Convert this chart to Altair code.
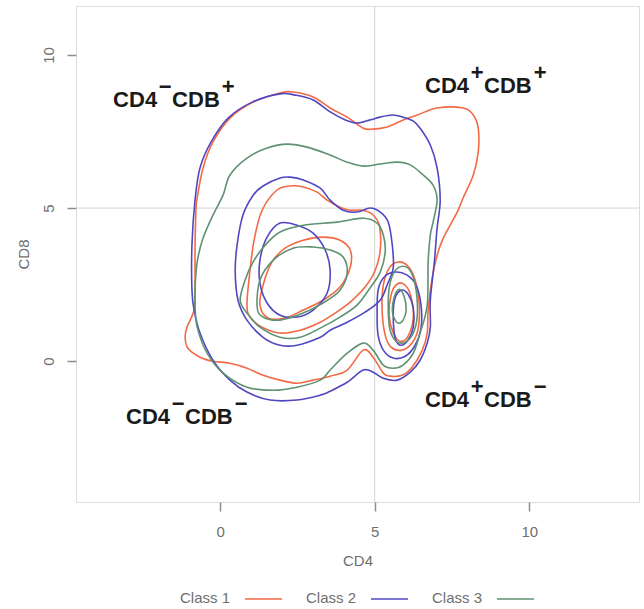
import altair as alt
import pandas as pd

CLASSES = ["Class 1", "Class 2", "Class 3"]
COLORS = ["#F26A45", "#5147C2", "#5F9272"]

# ---------- Class 1 (red) contours, (CD4, CD8) ----------
R1 = [(-0.81,1.99),(-0.81,3.63),(-0.78,4.93),(-0.74,5.33),(-0.55,6.31),(-0.23,7.16),(0.32,7.94),(1.07,8.46),
      (1.94,8.76),(2.36,8.79),(3.01,8.63),(3.56,8.27),(4.11,7.97),(4.63,7.61),(4.95,7.58),(5.40,7.65),(5.92,7.88),
      (6.38,8.04),(7.02,8.27),(7.86,8.27),(8.19,8.04),(8.35,7.61),(8.35,6.83),(8.19,6.08),(7.86,5.33),(7.67,4.87),
      (7.22,4.02),(7.02,3.46),(6.86,2.71),(6.73,1.67),(6.70,0.92),(6.54,0.36),(6.21,-0.20),(5.89,-0.46),(5.50,-0.49),
      (5.28,-0.39),(4.95,0.13),(4.63,0.36),(4.11,-0.29),(3.56,-0.49),(3.01,-0.62),(2.49,-0.72),(1.94,-0.62),
      (1.39,-0.46),(0.87,-0.23),(0.32,-0.07),(-0.23,0.00),(-0.65,0.13),(-1.04,0.42),(-1.13,0.78),(-1.07,1.11),(-0.87,1.57)]
R2 = [(0.87,1.83),(0.94,2.71),(1.10,3.95),(1.36,4.93),(1.84,5.59),(2.27,5.72),(2.69,5.69),(3.14,5.52),(3.46,5.26),
      (3.88,5.03),(4.21,4.93),(4.60,4.93),(4.92,4.80),(5.15,4.44),(5.18,3.63),(5.02,2.97),(4.69,2.42),(4.21,1.93),
      (3.72,1.57),(3.24,1.27),(2.59,1.01),(1.94,0.92),(1.36,1.11),(0.97,1.44)]
R3 = [(1.29,1.83),(1.39,2.48),(1.68,3.24),(2.10,3.69),(2.69,3.95),(3.33,4.05),(3.88,3.95),(4.21,3.63),(4.21,3.07),
      (3.88,2.42),(3.33,1.99),(2.69,1.67),(2.10,1.41),(1.55,1.41)]
R_PEAK1 = [(5.24,1.67),(5.28,2.48),(5.47,3.04),(5.76,3.24),(6.08,3.10),(6.31,2.65),(6.44,1.90),(6.41,1.08),(6.21,0.59),
           (5.89,0.36),(5.53,0.46),(5.34,0.85)]
R_PEAK2 = [(5.47,1.50),(5.53,2.16),(5.73,2.52),(5.99,2.48),(6.18,2.09),(6.25,1.41),(6.08,0.82),(5.83,0.65),(5.60,0.92)]

# ---------- Class 2 (blue) contours ----------
P1 = [(-0.91,2.32),(-0.91,3.79),(-0.81,5.26),(-0.65,6.31),(-0.29,7.16),(0.26,7.94),(1.04,8.46),(1.94,8.73),(2.43,8.69),
      (3.01,8.53),(3.56,8.14),(4.05,7.88),(4.43,7.78),(4.85,7.88),(5.18,7.97),(5.57,8.04),(5.92,7.97),(6.25,7.84),
      (6.47,7.61),(6.80,7.06),(7.02,6.31),(7.12,5.26),(7.02,4.35),(6.93,3.24),(6.80,1.99),(6.80,1.11),(6.70,0.59),
      (6.47,0.03),(6.15,-0.36),(5.73,-0.62),(5.28,-0.56),(4.95,-0.36),(4.63,-0.29),(4.11,-0.69),(3.56,-0.98),
      (3.24,-1.11),(2.49,-1.27),(1.62,-1.27),(0.87,-1.01),(0.32,-0.62),(-0.23,0.03),(-0.65,0.92),(-0.84,1.67)]
P2 = [(0.58,1.99),(0.49,2.91),(0.55,3.79),(0.74,4.77),(1.07,5.42),(1.39,5.72),(1.94,5.98),(2.27,6.01),(2.69,5.92),
      (3.24,5.65),(3.56,5.26),(3.98,4.93),(4.43,4.87),(4.85,5.00),(5.18,4.87),(5.44,4.54),(5.57,3.79),(5.60,3.04),
      (5.40,2.48),(5.18,1.99),(4.69,1.60),(4.11,1.27),(3.56,1.01),(3.24,0.78),(2.49,0.52),(1.94,0.52),(1.39,0.78),(0.87,1.34)]
P3 = [(1.94,4.51),(2.49,4.44),(3.01,4.18),(3.40,3.63),(3.56,2.97),(3.46,2.22),(3.01,1.67),(2.49,1.44),(1.94,1.50),
      (1.52,1.90),(1.29,2.55),(1.29,3.30),(1.52,4.05)]
P_PEAK1 = [(5.08,1.50),(5.11,2.32),(5.31,2.75),(5.66,2.91),(6.05,2.81),(6.34,2.48),(6.50,1.83),(6.50,1.08),(6.31,0.52),
           (5.99,0.16),(5.60,0.10),(5.28,0.36),(5.11,0.85)]
P_PEAK2 = [(5.60,1.50),(5.66,2.06),(5.86,2.32),(6.08,2.19),(6.25,1.73),(6.25,1.11),(6.08,0.69),(5.83,0.52),(5.66,0.78)]

# ---------- Class 3 (green) contours ----------
G1 = [(-0.81,1.83),(-0.81,2.39),(-0.74,3.24),(-0.55,4.02),(-0.23,4.77),(0.10,5.43),(0.32,6.08),(0.87,6.63),(1.52,6.96),
      (2.17,7.09),(2.82,6.99),(3.56,6.73),(4.11,6.50),(4.63,6.37),(5.18,6.44),(5.73,6.50),(6.15,6.41),(6.57,6.08),
      (6.89,5.75),(7.02,5.26),(6.89,4.54),(6.80,4.12),(6.73,3.24),(6.70,1.83),(6.47,0.92),(6.25,0.26),(5.92,-0.13),
      (5.60,-0.23),(5.28,-0.13),(4.95,0.36),(4.63,0.59),(4.11,0.26),(3.56,-0.29),(3.24,-0.62),(2.49,-0.85),
      (1.72,-0.95),(0.87,-0.85),(0.10,-0.39),(-0.42,0.26),(-0.74,1.11)]
G2 = [(0.65,1.99),(0.81,2.65),(1.07,3.24),(1.46,3.79),(1.94,4.22),(2.69,4.44),(3.79,4.54),(4.63,4.67),(5.08,4.51),
      (5.28,4.12),(5.34,3.56),(5.18,2.91),(4.85,2.39),(4.43,1.83),(3.88,1.44),(3.24,1.08),(2.59,0.78),(1.94,0.78),
      (1.29,1.11),(0.87,1.57)]
G3 = [(1.20,1.76),(1.29,2.65),(1.72,3.30),(2.36,3.69),(3.01,3.73),(3.56,3.63),(3.98,3.40),(4.11,2.88),(3.88,2.32),
      (3.33,1.90),(2.69,1.57),(1.94,1.34),(1.39,1.44)]
G_PEAK1 = [(5.44,1.67),(5.47,2.39),(5.63,2.91),(5.92,3.10),(6.18,2.91),(6.34,2.32),(6.38,1.50),(6.25,0.92),(5.99,0.62),
           (5.70,0.65),(5.50,1.01)]
G_PEAK2 = [(5.57,1.67),(5.63,2.09),(5.79,2.35),(5.95,2.12),(6.02,1.67),(5.92,1.34),(5.76,1.24),(5.63,1.41)]

CONTOURS = [
    ("Class 1", "r1", R1), ("Class 1", "r2", R2), ("Class 1", "r3", R3),
    ("Class 1", "rp1", R_PEAK1), ("Class 1", "rp2", R_PEAK2),
    ("Class 2", "p1", P1), ("Class 2", "p2", P2), ("Class 2", "p3", P3),
    ("Class 2", "pp1", P_PEAK1), ("Class 2", "pp2", P_PEAK2),
    ("Class 3", "g1", G1), ("Class 3", "g2", G2), ("Class 3", "g3", G3),
    ("Class 3", "gp1", G_PEAK1), ("Class 3", "gp2", G_PEAK2),
]

# quadrant annotations
LABEL_X = [-3.46, 6.63, -3.04, 6.63]
LABEL_Y = [8.30, 8.76, -2.06, -1.50]
SIGN_CD4 = ["\u2212", "+", "\u2212", "+"]
SIGN_CDB = ["+", "+", "\u2212", "\u2212"]

GRID_AT = [5]
X_TICKS = [0, 5, 10]
Y_TICKS = [0, 5, 10]

rows = []
for cls, cid, pts in CONTOURS:
    for i, (x, y) in enumerate(pts):
        rows.append({"cls": cls, "cid": cid, "i": i, "x": x, "y": y})
df = pd.DataFrame(rows)

lab = pd.DataFrame({"x": LABEL_X, "y": LABEL_Y, "s1": SIGN_CD4, "s2": SIGN_CDB,
                    "t1": ["CD4"] * 4, "t2": ["CDB"] * 4})

FONT = "Liberation Sans"
GRAY = "#6f6f6f"
SX = alt.Scale(domain=[-4.66, 13.55], nice=False, zero=False)
SY = alt.Scale(domain=[-4.6, 11.6], nice=False, zero=False)
AX = alt.Axis(values=X_TICKS, grid=False, domain=False, tickSize=9, tickColor="#8c8c8c", tickWidth=1.5,
              labelFontSize=15, labelColor=GRAY, labelPadding=13, labelFont=FONT,
              titleFontSize=15, titleColor=GRAY, titleFontWeight="normal", titleFont=FONT, titlePadding=14)
AY = alt.Axis(values=Y_TICKS, grid=False, domain=False, tickSize=9, tickColor="#8c8c8c", tickWidth=1.5,
              labelFontSize=15, labelColor=GRAY, labelPadding=14, labelFont=FONT, labelAngle=270,
              labelAlign="center", labelBaseline="alphabetic",
              titleFontSize=15, titleColor=GRAY, titleFontWeight="normal", titleFont=FONT, titlePadding=10)

X = alt.X("x:Q", scale=SX, axis=AX, title="CD4")
Y = alt.Y("y:Q", scale=SY, axis=AY, title="CD8")

vgrid = alt.Chart(pd.DataFrame({"x": GRID_AT})).mark_rule(color="#d4d4d4", strokeWidth=1).encode(x=X)
hgrid = alt.Chart(pd.DataFrame({"y": GRID_AT})).mark_rule(color="#d4d4d4", strokeWidth=1).encode(y=Y)

lines = alt.Chart(df).mark_line(strokeWidth=1.6, interpolate="cardinal-closed").encode(
    x=X, y=Y,
    detail="cid:N",
    order="i:Q",
    color=alt.Color("cls:N", scale=alt.Scale(domain=CLASSES, range=COLORS), legend=None),
)

base_t = alt.Chart(lab)
t1 = base_t.mark_text(font=FONT, fontWeight="bold", fontSize=22, align="left", baseline="alphabetic",
                      color="#1a1a1a").encode(x=X, y=Y, text="t1:N")
t2 = base_t.mark_text(font=FONT, fontWeight="bold", fontSize=22, align="left", baseline="alphabetic",
                      color="#1a1a1a", dx=59).encode(x=X, y=Y, text="t2:N")
s1 = base_t.mark_text(font=FONT, fontWeight="bold", fontSize=22, align="center", baseline="middle",
                      color="#1a1a1a", dx=52, dy=-20).encode(x=X, y=Y, text="s1:N")
s2 = base_t.mark_text(font=FONT, fontWeight="bold", fontSize=22, align="center", baseline="middle",
                      color="#1a1a1a", dx=115, dy=-20).encode(x=X, y=Y, text="s2:N")

# legend drawn below the plot: label followed by a line sample (R style)
LEG_STEP = 126
LEG_X0 = 104
LEG_Y = 592
legend_layers = []
for k, (name, col) in enumerate(zip(CLASSES, COLORS)):
    x0 = LEG_X0 + k * LEG_STEP
    legend_layers.append(
        alt.Chart(pd.DataFrame({"t": [name]})).mark_text(
            font=FONT, fontSize=15, color=GRAY, align="left", baseline="middle"
        ).encode(x=alt.value(x0), y=alt.value(LEG_Y), text="t:N")
    )
    legend_layers.append(
        alt.Chart(pd.DataFrame({"t": [name]})).mark_rule(color=col, strokeWidth=1.6).encode(
            x=alt.value(x0 + 65), x2=alt.value(x0 + 102), y=alt.value(LEG_Y + 1)
        )
    )

chart = alt.layer(vgrid, hgrid, lines, t1, t2, s1, s2, *legend_layers).properties(
    width=563, height=496,
    autosize=alt.AutoSizeParams(type="none"),
    padding={"left": 76, "top": 6, "right": 5, "bottom": 107},
).configure_view(stroke="#9a9a9a", strokeWidth=1.5).configure(background="white")

chart.save("out.html", embed_options={"renderer": "svg", "actions": False})
